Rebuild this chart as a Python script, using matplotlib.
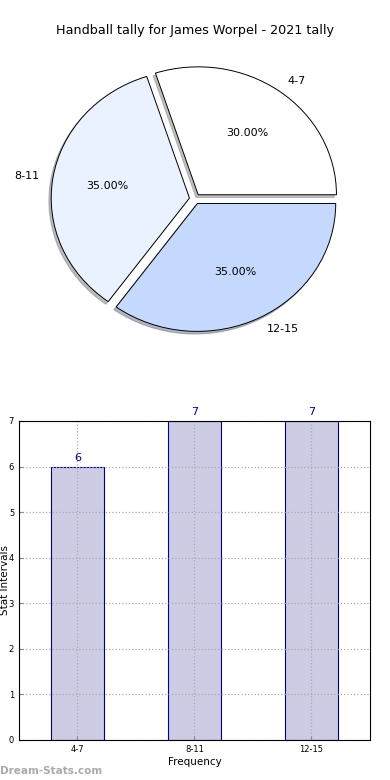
import matplotlib
matplotlib.use('Agg')
import matplotlib.pyplot as plt

# tally data
categories = ['4-7', '8-11', '12-15']
counts = [6, 7, 7]
pie_colors = ['#FFFFFF', '#EAF1FF', '#C5D9FF']

fig = plt.figure(figsize=(3.9, 7.8), dpi=100)

# Pie chart (top)
ax_pie = fig.add_axes([0.046, 0.540, 0.897, 0.410])
wedges, texts, autotexts = ax_pie.pie(
    counts, labels=categories, colors=pie_colors, autopct='%1.2f%%',
    explode=[0.04] * len(counts),
    shadow={'ox': -0.012, 'oy': -0.015, 'shade': 0.5},
    startangle=0, counterclock=True, labeldistance=1.1,
    wedgeprops=dict(edgecolor='black', linewidth=0.7))
for t in texts + autotexts:
    t.set_fontsize(8)
ax_pie.set_aspect('auto')
ax_pie.set_xlim(-1.28, 1.25)
ax_pie.set_ylim(-1.25, 1.25)
fig.text(0.5, 0.961, 'Handball tally for James Worpel - 2021 tally',
         ha='center', va='center', fontsize=9.2)

# Bar chart (bottom)
ax_bar = fig.add_axes([0.0487, 0.0513, 0.90, 0.409])
xpos = list(range(len(categories)))
ax_bar.bar(xpos, counts, width=0.45, color='#CCCCE5',
           edgecolor='#000080', linewidth=0.8, zorder=1)
for x, v in zip(xpos, counts):
    ax_bar.text(x, v + 0.08, str(v), ha='center', va='bottom',
                color='#000080', fontsize=8)
ax_bar.set_xlim(-0.5, 2.5)
ax_bar.set_ylim(0, 7)
ax_bar.set_xticks(xpos)
ax_bar.set_xticklabels(categories)
ax_bar.set_yticks(range(0, 8))
ax_bar.tick_params(labelsize=6, length=3, direction='in', color='#888888')
ax_bar.grid(True, linestyle=':', color='#AAAAAA', linewidth=0.9, zorder=2)
ax_bar.set_axisbelow(False)
for sp in ax_bar.spines.values():
    sp.set_zorder(3)
ax_bar.set_xlabel('Frequency', fontsize=7.5, labelpad=2)
ax_bar.set_ylabel('Stat Intervals', fontsize=7.5)
ax_bar.yaxis.set_label_coords(-0.027, 0.5)

fig.text(0.0, 0.012, 'Dream-Stats.com', color='#AAAAAA', fontsize=7.5,
         fontweight='bold', ha='left', va='center')

fig.savefig('out.png', dpi=100)
